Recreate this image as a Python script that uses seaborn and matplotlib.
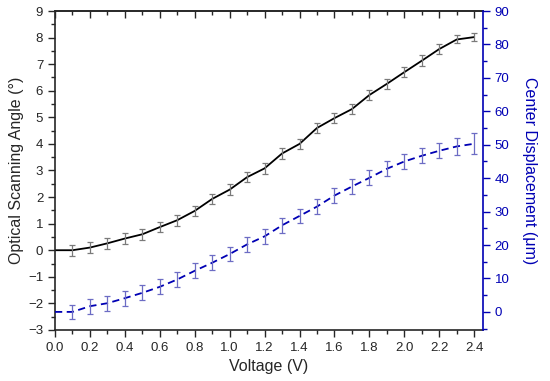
import matplotlib
matplotlib.use("Agg")
import matplotlib.pyplot as plt
import seaborn as sns
import pandas as pd
from matplotlib.ticker import MultipleLocator, NullFormatter

# data
voltage = [0.0, 0.1, 0.2, 0.3, 0.4, 0.5, 0.6, 0.7, 0.8, 0.9, 1.0, 1.1, 1.2,
           1.3, 1.4, 1.5, 1.6, 1.7, 1.8, 1.9, 2.0, 2.1, 2.2, 2.3, 2.4]
angle = [0.0, 0.0, 0.1, 0.26, 0.44, 0.6, 0.87, 1.13, 1.48, 1.93, 2.28, 2.75,
         3.08, 3.64, 4.0, 4.6, 4.97, 5.31, 5.84, 6.26, 6.7, 7.13, 7.57, 7.93, 8.02]
angle_err = [0.0] + [0.2] * 22 + [0.15, 0.15]
displacement = [0.0, 0.0, 1.7, 2.6, 4.1, 5.7, 7.5, 9.7, 12.3, 14.7, 17.3, 20.2,
                22.6, 25.9, 28.7, 31.5, 34.8, 37.5, 40.1, 42.8, 45.0, 46.7,
                48.2, 49.5, 50.3]
disp_err = [0.0] + [2.2] * 21 + [2.3, 2.5, 3.2]

df = pd.DataFrame({"Voltage": voltage, "Angle": angle, "AngleErr": angle_err,
                   "Disp": displacement, "DispErr": disp_err})

sns.set_style("ticks")
plt.rcParams["font.family"] = ["Liberation Sans", "DejaVu Sans"]

blue = "#0000b4"

fig = plt.figure(figsize=(5.5, 3.81), dpi=100)
ax = fig.add_axes([0.1, 0.134, 0.778, 0.837])

sns.lineplot(data=df, x="Voltage", y="Angle", color="black", lw=1.3, ax=ax)
eb = df[df.Voltage > 0]
ax.errorbar(eb.Voltage, eb.Angle, yerr=eb.AngleErr, fmt="none",
            ecolor="#7a7a7a", elinewidth=0.9, capsize=2.3, capthick=0.9)

ax.set_xlim(0, 2.45)
ax.set_ylim(-3, 9)
ax.xaxis.set_major_locator(MultipleLocator(0.2))
ax.xaxis.set_minor_locator(MultipleLocator(0.1))
ax.yaxis.set_major_locator(MultipleLocator(1))
ax.yaxis.set_minor_locator(MultipleLocator(0.5))
ax.tick_params(which="major", length=5, width=1, labelsize=9.5, direction="out")
ax.tick_params(which="minor", length=3, width=1, direction="out")
ax.set_xticklabels([f"{v:.1f}" for v in ax.get_xticks()])
ax.set_xlabel("Voltage (V)", fontsize=11.5)
ax.set_ylabel("Optical Scanning Angle (°)", fontsize=11.5, labelpad=3)
ax.spines["right"].set_visible(False)
for s in ["left", "bottom", "top"]:
    ax.spines[s].set_linewidth(1.2)

top = ax.secondary_xaxis("top")
top.xaxis.set_major_locator(MultipleLocator(0.2))
top.xaxis.set_minor_locator(MultipleLocator(0.1))
top.xaxis.set_major_formatter(NullFormatter())
top.tick_params(which="major", direction="in", length=5, width=1)
top.tick_params(which="minor", direction="in", length=3, width=1)
top.spines["top"].set_linewidth(1.2)

ax2 = ax.twinx()
sns.lineplot(data=df, x="Voltage", y="Disp", color=blue, lw=1.3,
             linestyle=(0, (4, 2.5)), ax=ax2)
ax2.errorbar(eb.Voltage, eb.Disp, yerr=eb.DispErr, fmt="none",
             ecolor="#6c6cc4", elinewidth=0.9, capsize=2.3, capthick=0.9)
ax2.set_ylim(-5.4, 90)
ax2.yaxis.set_major_locator(MultipleLocator(10))
ax2.yaxis.set_minor_locator(MultipleLocator(5))
ax2.tick_params(which="major", length=5, width=1, labelsize=9.5, colors=blue)
ax2.tick_params(which="minor", length=3, width=1, colors=blue)
ax2.set_ylabel("Center Displacement (μm)", fontsize=11.5, color=blue,
               rotation=270, labelpad=20)
ax2.spines["right"].set_color(blue)
ax2.spines["right"].set_linewidth(1.2)
for s in ["left", "top", "bottom"]:
    ax2.spines[s].set_visible(False)

fig.savefig("out.png", dpi=100)
